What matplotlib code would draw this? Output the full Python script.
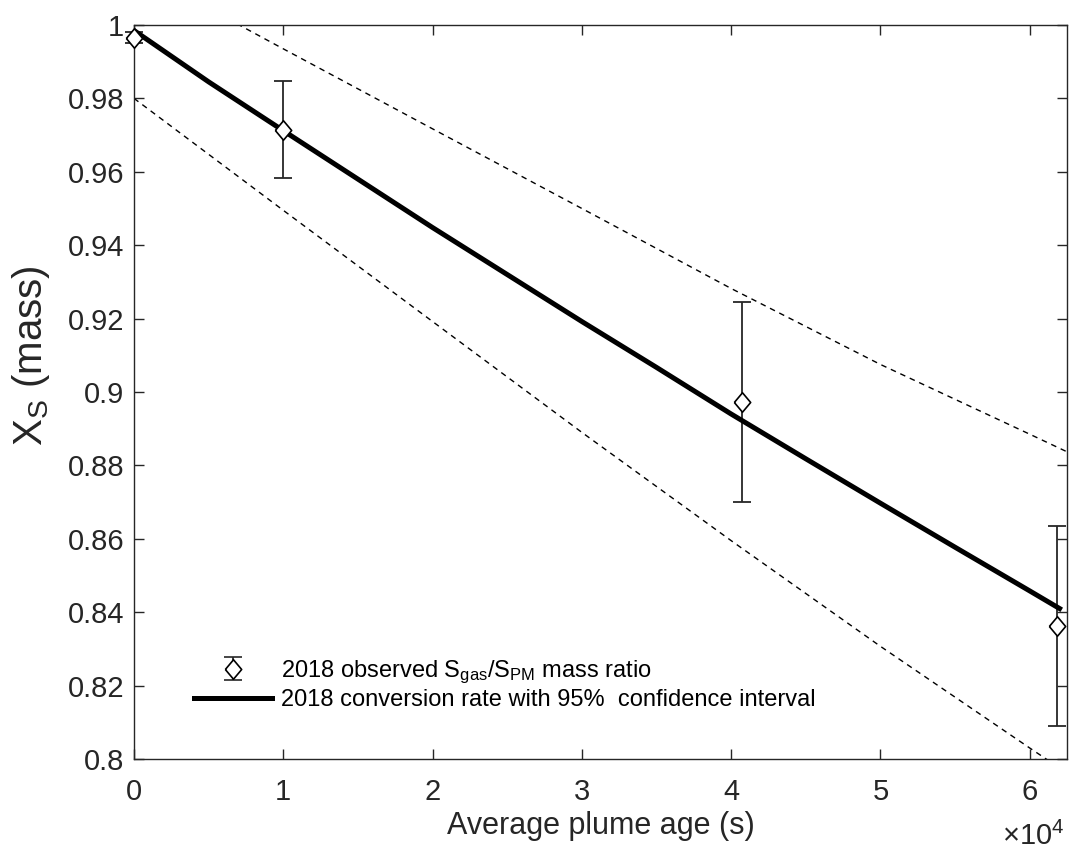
import matplotlib
matplotlib.use("Agg")
import matplotlib.pyplot as plt
from matplotlib.ticker import FuncFormatter, MultipleLocator

plt.rcParams['font.family'] = ['Liberation Sans', 'DejaVu Sans']
plt.rcParams['mathtext.default'] = 'regular'

# observed mass ratio with error bars
obs_age = [0, 1.0e4, 4.07e4, 6.18e4]
obs_xs = [0.9965, 0.9714, 0.8973, 0.8362]
obs_err = [0.0015, 0.0132, 0.0273, 0.0273]

# fitted conversion rate
fit_age = [0, 0.5e4, 1e4, 1.5e4, 2e4, 2.5e4, 3e4, 3.5e4, 4e4, 4.5e4, 5e4, 5.5e4, 6e4, 6.2e4]
fit_xs = [0.9985, 0.9845, 0.9712, 0.9580, 0.9448, 0.9320, 0.9192, 0.9067,
          0.8940, 0.8818, 0.8697, 0.8577, 0.8458, 0.8410]

# 95% confidence bounds
ci_age = [0, 1e4, 2e4, 3e4, 4e4, 5e4, 6e4, 6.25e4]
ci_upper = [1.0155, 0.9935, 0.9717, 0.9500, 0.9282, 0.9075, 0.8885, 0.8837]
ci_lower = [0.9800, 0.9495, 0.9192, 0.8890, 0.8595, 0.8307, 0.8030, 0.7962]

gray = '#262626'

fig = plt.figure(figsize=(10.71, 8.49), dpi=100)
ax = fig.add_axes([0.1251, 0.106, 0.8712, 0.8646])

ax.plot(ci_age, ci_upper, color='black', lw=1.0, ls=(0, (4, 3.5)))
ax.plot(ci_age, ci_lower, color='black', lw=1.0, ls=(0, (4, 3.5)))

diamond = [(-0.42, 0), (0, 0.5), (0.42, 0), (0, -0.5), (-0.42, 0)]
eb = ax.errorbar(obs_age, obs_xs, yerr=obs_err, fmt='none', ecolor=gray,
                 elinewidth=1.3, capsize=6.5, capthick=1.3)
for art in eb.lines[1] + eb.lines[2]:
    art.set_clip_on(False)
ax.plot(obs_age, obs_xs, ls='none', marker=diamond, markersize=14,
        mfc='white', mec='black', mew=1.2, clip_on=False, zorder=3)
fit_line, = ax.plot(fit_age, fit_xs, color='black', lw=3.6)

# legend proxy for diamond + error bar (drawn outside the view)
leg_eb = ax.errorbar([0], [2], yerr=[0.01], fmt=' ', marker=diamond, markersize=14,
                     mfc='white', mec='black', mew=1.2, ecolor=gray,
                     elinewidth=1.3, capsize=6.5, capthick=1.3)

ax.legend([leg_eb, fit_line],
          ['2018 observed S$_{gas}$/S$_{PM}$ mass ratio',
           '2018 conversion rate with 95%  confidence interval'],
          loc='lower left', bbox_to_anchor=(0.042, 0.036), frameon=False,
          fontsize=17, handlelength=3.3, handletextpad=0.35, labelspacing=0.15)

ax.set_xlim(0, 6.25e4)
ax.set_ylim(0.8, 1.0)
ax.xaxis.set_major_locator(MultipleLocator(1e4))
ax.yaxis.set_major_locator(MultipleLocator(0.02))
ax.xaxis.set_major_formatter(FuncFormatter(lambda v, p: f"{v / 1e4:g}"))
ax.yaxis.set_major_formatter(FuncFormatter(lambda v, p: f"{v:.2f}".rstrip('0').rstrip('.')))

ax.tick_params(direction='in', top=True, right=True, length=7, width=1.0,
               labelsize=21, colors=gray)
ax.tick_params(axis='x', pad=14)
ax.tick_params(axis='y', pad=7)
for s in ax.spines.values():
    s.set_color(gray)
    s.set_linewidth(1.0)

ax.set_xlabel('Average plume age (s)', fontsize=22, color=gray, labelpad=3)
ax.set_ylabel('X$_S$ (mass)', fontsize=29, color=gray)
ax.yaxis.set_label_coords(-0.088, 0.549)
ax.text(0.997, -0.117, r'$\times10^4$', transform=ax.transAxes, ha='right',
        va='baseline', fontsize=21, color=gray)

fig.savefig('out.png', dpi=100)
